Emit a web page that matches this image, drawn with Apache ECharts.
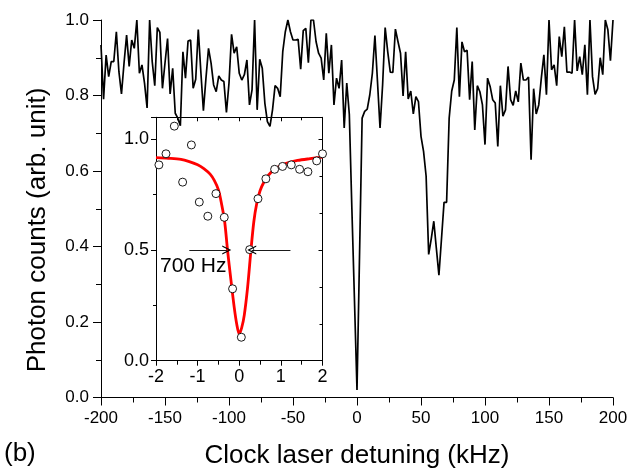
<!DOCTYPE html>
<html><head><meta charset="utf-8">
<script src="https://cdn.jsdelivr.net/npm/echarts@6/dist/echarts.min.js"></script>
<style>html,body{margin:0;padding:0;background:#fff}#c{width:642px;height:474px}</style>
</head><body><div id="c"></div>
<script>
// ---- main trace: detuning (kHz) and photon counts ----
const detuning = [
-200,-198,-196,-194,-192,-190,-188,-186,-184,-182,-180,-178,-176,-174,-172,-170,-168,-166,-164,-162,
-160,-158,-156,-154,-152,-150,-148,-146,-144,-142,-140,-138,-136,-134,-132,-130,-128,-126,-124,-122,
-120,-118,-116,-114,-112,-110,-108,-106,-104,-102,-100,-98,-96,-94,-92,-90,-88,-86,-84,-82,
-80,-78,-76,-74,-72,-70,-68,-66,-64,-62,-60,-58,-56,-54,-52,-50,-48,-46,-44,-42,
-40,-38,-36,-34,-32,-30,-28,-26,-24,-22,-20,-18,-16,-14,-12,-10,-8,-6,-4,-2,
0,2,4,6,8,10,12,14,16,18,20,22,24,26,28,30,32,34,36,38,
40,42,44,46,48,50,52,54,56,58,60,62,64,66,68,70,72,74,76,78,
80,82,84,86,88,90,92,94,96,98,100,102,104,106,108,110,112,114,116,118,
120,122,124,126,128,130,132,134,136,138,140,142,144,146,148,150,152,154,156,158,
160,162,164,166,168,170,172,174,176,178,180,182,184,186,188,190,192,194,196,198,
200];
const counts = [
0.934,0.79,0.907,0.85,0.89,0.89,0.969,0.863,0.804,0.886,
0.96,0.877,0.947,0.925,1.0,0.859,0.881,0.833,0.767,1.0,
0.89,0.826,0.98,0.967,0.819,0.886,0.951,0.804,0.872,0.753,
0.74,0.72,0.916,0.846,0.944,0.947,0.819,0.843,0.975,0.863,
0.76,0.846,0.925,0.886,0.828,0.81,0.852,0.841,0.837,0.755,
0.833,0.962,0.912,0.929,0.859,0.841,0.855,0.894,0.775,0.815,
1.0,0.762,0.896,0.872,0.78,0.731,0.718,0.762,0.826,0.819,
0.797,0.916,0.969,1.0,0.969,0.947,0.947,0.949,0.87,0.972,
0.978,0.887,1.0,1.0,0.943,0.912,0.899,0.841,0.965,0.859,
0.934,0.775,0.846,0.819,0.894,0.714,0.833,0.75,0.50,0.26,
0.02,0.38,0.74,0.758,0.764,0.802,0.859,0.959,0.837,0.714,
0.828,0.98,0.916,0.862,0.861,0.976,0.943,0.912,0.799,0.916,
0.791,0.812,0.751,0.797,0.784,0.692,0.652,0.586,0.379,0.42,
0.467,0.395,0.324,0.42,0.517,0.517,0.74,0.812,0.841,0.98,
0.797,0.942,0.916,0.92,0.789,0.89,0.709,0.826,0.81,0.775,
0.67,0.846,0.824,0.789,0.78,0.665,0.826,0.745,0.762,0.877,
0.789,0.774,0.812,0.783,0.886,0.841,0.841,0.849,0.63,0.818,
0.751,0.775,0.846,0.908,0.802,1.0,0.868,0.881,0.826,0.956,
0.903,0.982,0.862,0.862,0.859,1.0,0.865,0.903,0.855,0.934,
0.802,1.0,0.85,0.803,0.818,0.9,0.855,1.0,0.974,0.892,
1.0];

// ---- inset: measured points and fitted curve ----
const insetX = [-1.93,-1.76,-1.56,-1.36,-1.15,-0.96,-0.755,-0.56,-0.36,-0.16,0.05,0.25,0.45,0.64,0.85,1.04,1.25,1.45,1.65,1.86,2.0];
const insetY = [0.885,0.935,1.06,0.807,0.975,0.717,0.653,0.755,0.648,0.325,0.106,0.502,0.732,0.822,0.865,0.878,0.885,0.865,0.854,0.903,0.935];
const fitX = [-2,-1.7,-1.4,-1.2,-1.0,-0.85,-0.7,-0.6,-0.5,-0.42,-0.35,-0.28,-0.2,-0.12,-0.06,0,0.06,0.12,0.2,0.28,0.35,0.42,0.5,0.6,0.7,0.85,1.0,1.2,1.4,1.7,2.0];
const fitY = [0.918,0.915,0.910,0.900,0.886,0.868,0.843,0.815,0.772,0.704,0.628,0.497,0.365,0.24,0.165,0.12,0.15,0.205,0.33,0.497,0.628,0.71,0.768,0.81,0.838,0.866,0.882,0.896,0.905,0.913,0.92];
const fwhmLevel = 0.5;
const fwhmLeft = [-1.2, -0.3];
const fwhmRight = [1.23, 0.3];
const fwhmText = '700 Hz';

// ---- axis ticks / labels ----
const mainXTicks = {min:-200, max:200, step:50};
const mainYTicks = {min:0, max:1.0, step:0.2};
const insetXTicks = {min:-2, max:2, step:1};
const insetYTicks = {min:0, max:1.1, step:0.5};
const xTitle = 'Clock laser detuning (kHz)';
const yTitle = 'Photon counts (arb. unit)';
const panelTag = '(b)';

const FONT = '"Liberation Sans", Arial, Helvetica, sans-serif';
const chart = echarts.init(document.getElementById('c'), null, {renderer:'canvas'});
const black = '#000';
const axisBase = {
  axisLine:{show:true, onZero:false, lineStyle:{color:black, width:1}},
  splitLine:{show:false},
};
const chevron = 'path://M0,10 L5,0 L10,10 L8.6,10 L5,2.8 L1.4,10 Z';

chart.setOption({
  animation:false,
  backgroundColor:'#fff',
  grid:[
    {left:101, right:29, top:20, bottom:76.5},
    {left:156, width:166.5, top:117.3, height:243.4}
  ],
  xAxis:[
    Object.assign({}, axisBase, {gridIndex:0, type:'value', min:mainXTicks.min, max:mainXTicks.max, interval:mainXTicks.step,
      axisTick:{show:true, inside:false, length:8, lineStyle:{color:black}},
      minorTick:{show:true, splitNumber:2, length:5, lineStyle:{color:black}},
      axisLabel:{color:black, fontSize:17, fontFamily:FONT, margin:12},
      name:xTitle, nameLocation:'middle', nameGap:45,
      nameTextStyle:{color:black, fontSize:26, fontFamily:FONT}}),
    Object.assign({}, axisBase, {gridIndex:1, type:'value', min:insetXTicks.min, max:insetXTicks.max, interval:insetXTicks.step,
      axisTick:{show:true, inside:false, length:5, lineStyle:{color:black}},
      minorTick:{show:true, splitNumber:2, length:4, lineStyle:{color:black}},
      axisLabel:{color:black, fontSize:18, fontFamily:FONT, margin:7}}),
    Object.assign({}, axisBase, {gridIndex:1, type:'value', position:'top', min:insetXTicks.min, max:insetXTicks.max, interval:insetXTicks.step,
      axisTick:{show:true, inside:true, length:4, lineStyle:{color:black}},
      minorTick:{show:true, splitNumber:2, length:3, lineStyle:{color:black}},
      axisLabel:{show:false}})
  ],
  yAxis:[
    Object.assign({}, axisBase, {gridIndex:0, type:'value', min:mainYTicks.min, max:mainYTicks.max, interval:mainYTicks.step,
      axisTick:{show:true, inside:false, length:8, lineStyle:{color:black}},
      minorTick:{show:true, splitNumber:2, length:5, lineStyle:{color:black}},
      axisLabel:{color:black, fontSize:17, fontFamily:FONT, margin:12, formatter:v=>v.toFixed(1)}}),
    Object.assign({}, axisBase, {gridIndex:1, type:'value', min:insetYTicks.min, max:insetYTicks.max, interval:insetYTicks.step,
      axisTick:{show:true, inside:false, length:5, lineStyle:{color:black}},
      minorTick:{show:true, splitNumber:2, length:3, lineStyle:{color:black}},
      axisLabel:{color:black, fontSize:18, fontFamily:FONT, margin:7, showMaxLabel:false, formatter:v=>v.toFixed(1)}}),
    Object.assign({}, axisBase, {gridIndex:1, type:'value', position:'right', min:insetYTicks.min, max:insetYTicks.max, interval:insetYTicks.step,
      axisTick:{show:true, inside:true, length:4, lineStyle:{color:black}},
      minorTick:{show:true, splitNumber:3, length:3, lineStyle:{color:black}},
      axisLabel:{show:false}})
  ],
  series:[
    {type:'line', xAxisIndex:0, yAxisIndex:0, data:detuning.map((x,i)=>[x,counts[i]]),
      showSymbol:false, symbol:'none', lineStyle:{color:black, width:1.7}, clip:true, silent:true, z:2},
    {type:'line', xAxisIndex:1, yAxisIndex:1, data:fitX.map((x,i)=>[x,fitY[i]]),
      showSymbol:false, symbol:'none', smooth:0.3, lineStyle:{color:'#ff0000', width:2.8}, silent:true, z:3},
    {type:'scatter', xAxisIndex:1, yAxisIndex:1, data:insetX.map((x,i)=>[x,insetY[i]]),
      symbol:'circle', symbolSize:8, itemStyle:{color:'#fff', borderColor:black, borderWidth:0.9, opacity:1}, clip:false, silent:true, z:4,
      markLine:{silent:true, symbol:['none', chevron], symbolSize:9, label:{show:false}, emphasis:{disabled:true},
        lineStyle:{color:black, width:0.9, type:'solid'}, itemStyle:{color:black},
        data:[
          [{coord:[fwhmLeft[0], fwhmLevel]},{coord:[fwhmLeft[1], fwhmLevel]}],
          [{coord:[fwhmRight[0], fwhmLevel]},{coord:[fwhmRight[1], fwhmLevel]}]
        ]}}
  ],
  graphic:[
    {type:'text', left:160, top:256, silent:true, style:{text:fwhmText, fontSize:21, fontFamily:FONT, fill:black}},
    {type:'text', left:4, top:441, silent:true, style:{text:panelTag, fontSize:26, fontFamily:FONT, fill:black}},
    {type:'text', x:38, y:230, rotation:Math.PI/2, silent:true, style:{text:yTitle, fontSize:26, fontFamily:FONT, fill:black, align:'center', verticalAlign:'middle'}}
  ]
});
</script></body></html>
